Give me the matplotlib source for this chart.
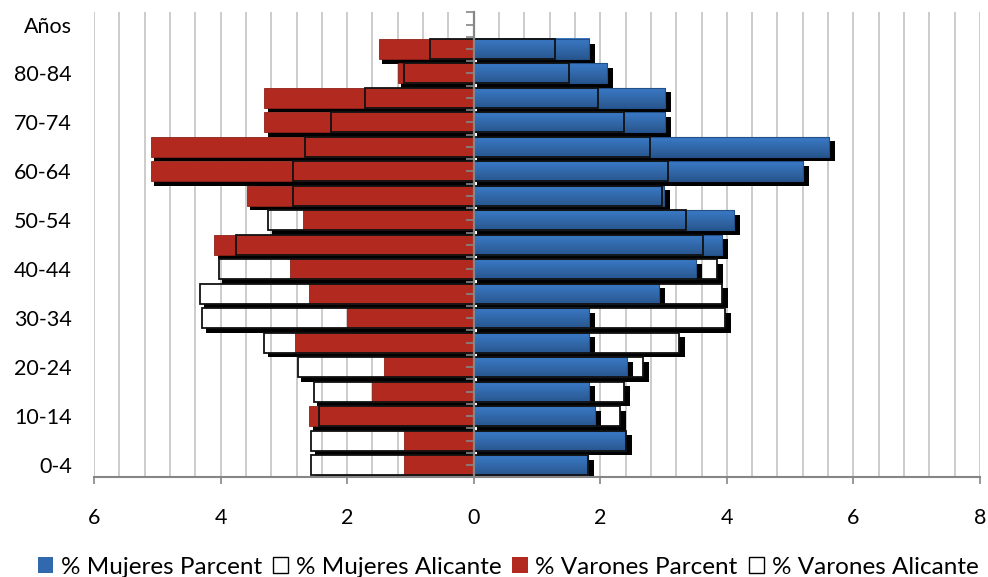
import numpy as np
import matplotlib.pyplot as plt
from matplotlib.patches import Rectangle, Patch
from matplotlib.colors import LinearSegmentedColormap

# grupos de edad, de abajo a arriba (la fila "Años" queda vacia)
grupos = ['0-4', '5-9', '10-14', '15-19', '20-24', '25-29', '30-34', '35-39',
          '40-44', '45-49', '50-54', '55-59', '60-64', '65-69', '70-74',
          '75-79', '80-84', '85+', 'Años']

mujeres_parcent = [1.81, 2.39, 1.92, 1.82, 2.42, 1.82, 1.82, 2.93, 3.51,
                   3.92, 4.11, 3.01, 5.20, 5.61, 3.02, 3.02, 2.11, 1.82]
mujeres_alicante = [1.80, 2.40, 2.31, 2.37, 2.68, 3.24, 3.97, 3.92, 3.84,
                    3.63, 3.35, 2.97, 3.07, 2.79, 2.37, 1.97, 1.51, 1.28]
varones_parcent = [1.10, 1.10, 2.60, 1.61, 1.42, 2.82, 2.00, 2.60, 2.91,
                   4.10, 2.70, 3.59, 5.10, 5.10, 3.31, 3.31, 1.20, 1.50]
varones_alicante = [2.57, 2.57, 2.44, 2.53, 2.78, 3.31, 4.29, 4.32, 4.03,
                    3.75, 3.25, 2.85, 2.85, 2.66, 2.25, 1.71, 1.10, 0.69]

ticks_x = [-6, -4, -2, 0, 2, 4, 6, 8]
etiquetas_x = ['6', '4', '2', '0', '2', '4', '6', '8']

AZUL_ARRIBA = '#3b7ac6'
AZUL_ABAJO = '#28578f'
AZUL = '#3268ad'
ROJO = '#b22a1f'
GRIS = '#868686'
REJILLA = '#c8c8c8'

plt.rcParams['font.family'] = ['Lato', 'DejaVu Sans']

W, H = 988, 577
fig = plt.figure(figsize=(W / 100, H / 100), dpi=100)
ax = fig.add_axes([94 / W, 1 - 477.3 / H, 886 / W, 465 / H])

xmin, xmax = -6, 8
ymin, ymax = -0.5, len(grupos) - 0.5
px_x = (xmax - xmin) / 886.0
px_y = (ymax - ymin) / 465.0
alto = 20 * px_y

# rejilla vertical cada 0.4
rejilla_x = np.arange(xmin, xmax + 0.01, 0.4)
ax.vlines(rejilla_x, ymin, ymax, color=REJILLA, lw=1.3, zorder=0)

y = np.arange(len(mujeres_parcent))
degradado = LinearSegmentedColormap.from_list('az', [AZUL_ARRIBA, AZUL_ABAJO])
grad = np.linspace(0, 1, 32).reshape(-1, 1)


def sombra(a, b, yc, z):
    x0 = a + 3.5 * px_x
    x1 = b + (6 * px_x if b > 0 else 0)
    ax.add_patch(Rectangle((x0, yc - alto / 2 - 4.5 * px_y), x1 - x0, alto,
                           facecolor='black', edgecolor='none', zorder=z))


for i in y:
    barras_ali = [(-varones_alicante[i], 0), (0, mujeres_alicante[i])]
    barras_par = [(-varones_parcent[i], 0), (0, mujeres_parcent[i])]

    # Alicante: sin relleno, contorno negro y sombra
    for a, b in barras_ali:
        sombra(a, b, i, 1)
        ax.add_patch(Rectangle((a, i - alto / 2), b - a, alto,
                               facecolor='white', edgecolor='none', zorder=2))
        xs = rejilla_x[(rejilla_x > a) & (rejilla_x < b)]
        ax.vlines(xs, i - alto / 2, i + alto / 2, color=REJILLA, lw=1.3,
                  zorder=2.5)

    # Parcent: barras de color con sombra
    for a, b in barras_par:
        sombra(a, b, i, 3)
    a, b = barras_par[0]
    ax.add_patch(Rectangle((a, i - alto / 2), b - a, alto,
                           facecolor=ROJO, edgecolor='#8e2218', lw=0.6,
                           zorder=4))
    a, b = barras_par[1]
    ax.imshow(grad, cmap=degradado, extent=[a, b, i - alto / 2, i + alto / 2],
              aspect='auto', origin='upper', interpolation='bilinear',
              zorder=4)
    ax.add_patch(Rectangle((a, i - alto / 2), b - a, alto, fill=False,
                           edgecolor='#24508a', lw=0.8, zorder=4.1))

    for a, b in barras_ali:
        ax.add_patch(Rectangle((a, i - alto / 2), b - a, alto, fill=False,
                               edgecolor='#111111', lw=1.3, zorder=5))

ax.set_xlim(xmin, xmax)
ax.set_ylim(ymin, ymax)

ax.set_xticks(ticks_x)
ax.set_xticklabels(etiquetas_x)
ax.set_yticks(np.arange(0, len(grupos), 2))
ax.set_yticklabels(grupos[::2], va='center_baseline')
ax.tick_params(axis='x', length=5, width=1.2, color=GRIS, pad=17,
               labelsize=15.5)
ax.tick_params(axis='y', length=0, pad=16, labelsize=15.5)
for lado in ['left', 'right', 'top']:
    ax.spines[lado].set_visible(False)
ax.spines['bottom'].set_color(GRIS)
ax.spines['bottom'].set_linewidth(1.5)
ax.spines['bottom'].set_zorder(6)

# eje central con marcas
eje = ax.secondary_yaxis((0 - xmin) / (xmax - xmin))
eje.set_zorder(10)
eje.set_yticks(np.arange(ymin, ymax + 0.01, 0.5))
eje.tick_params(length=6, width=1.2, color=GRIS, labelleft=False,
                labelright=False)
eje.spines['left'].set_color(GRIS)
eje.spines['left'].set_linewidth(1.6)

handles = [Patch(facecolor=AZUL, edgecolor='none'),
           Patch(facecolor='white', edgecolor='black', lw=1.0),
           Patch(facecolor=ROJO, edgecolor='none'),
           Patch(facecolor='white', edgecolor='black', lw=1.0)]
labels = ['% Mujeres Parcent', '% Mujeres Alicante', '% Varones Parcent',
          '% Varones Alicante']
fig.legend(handles, labels, loc='center', ncol=4, frameon=False,
           bbox_to_anchor=(508 / W, 1 - 567 / H), fontsize=17.5,
           handlelength=0.65, handleheight=0.65, handletextpad=0.3,
           columnspacing=0.45, borderaxespad=0)

fig.savefig('out.png', dpi=100)
